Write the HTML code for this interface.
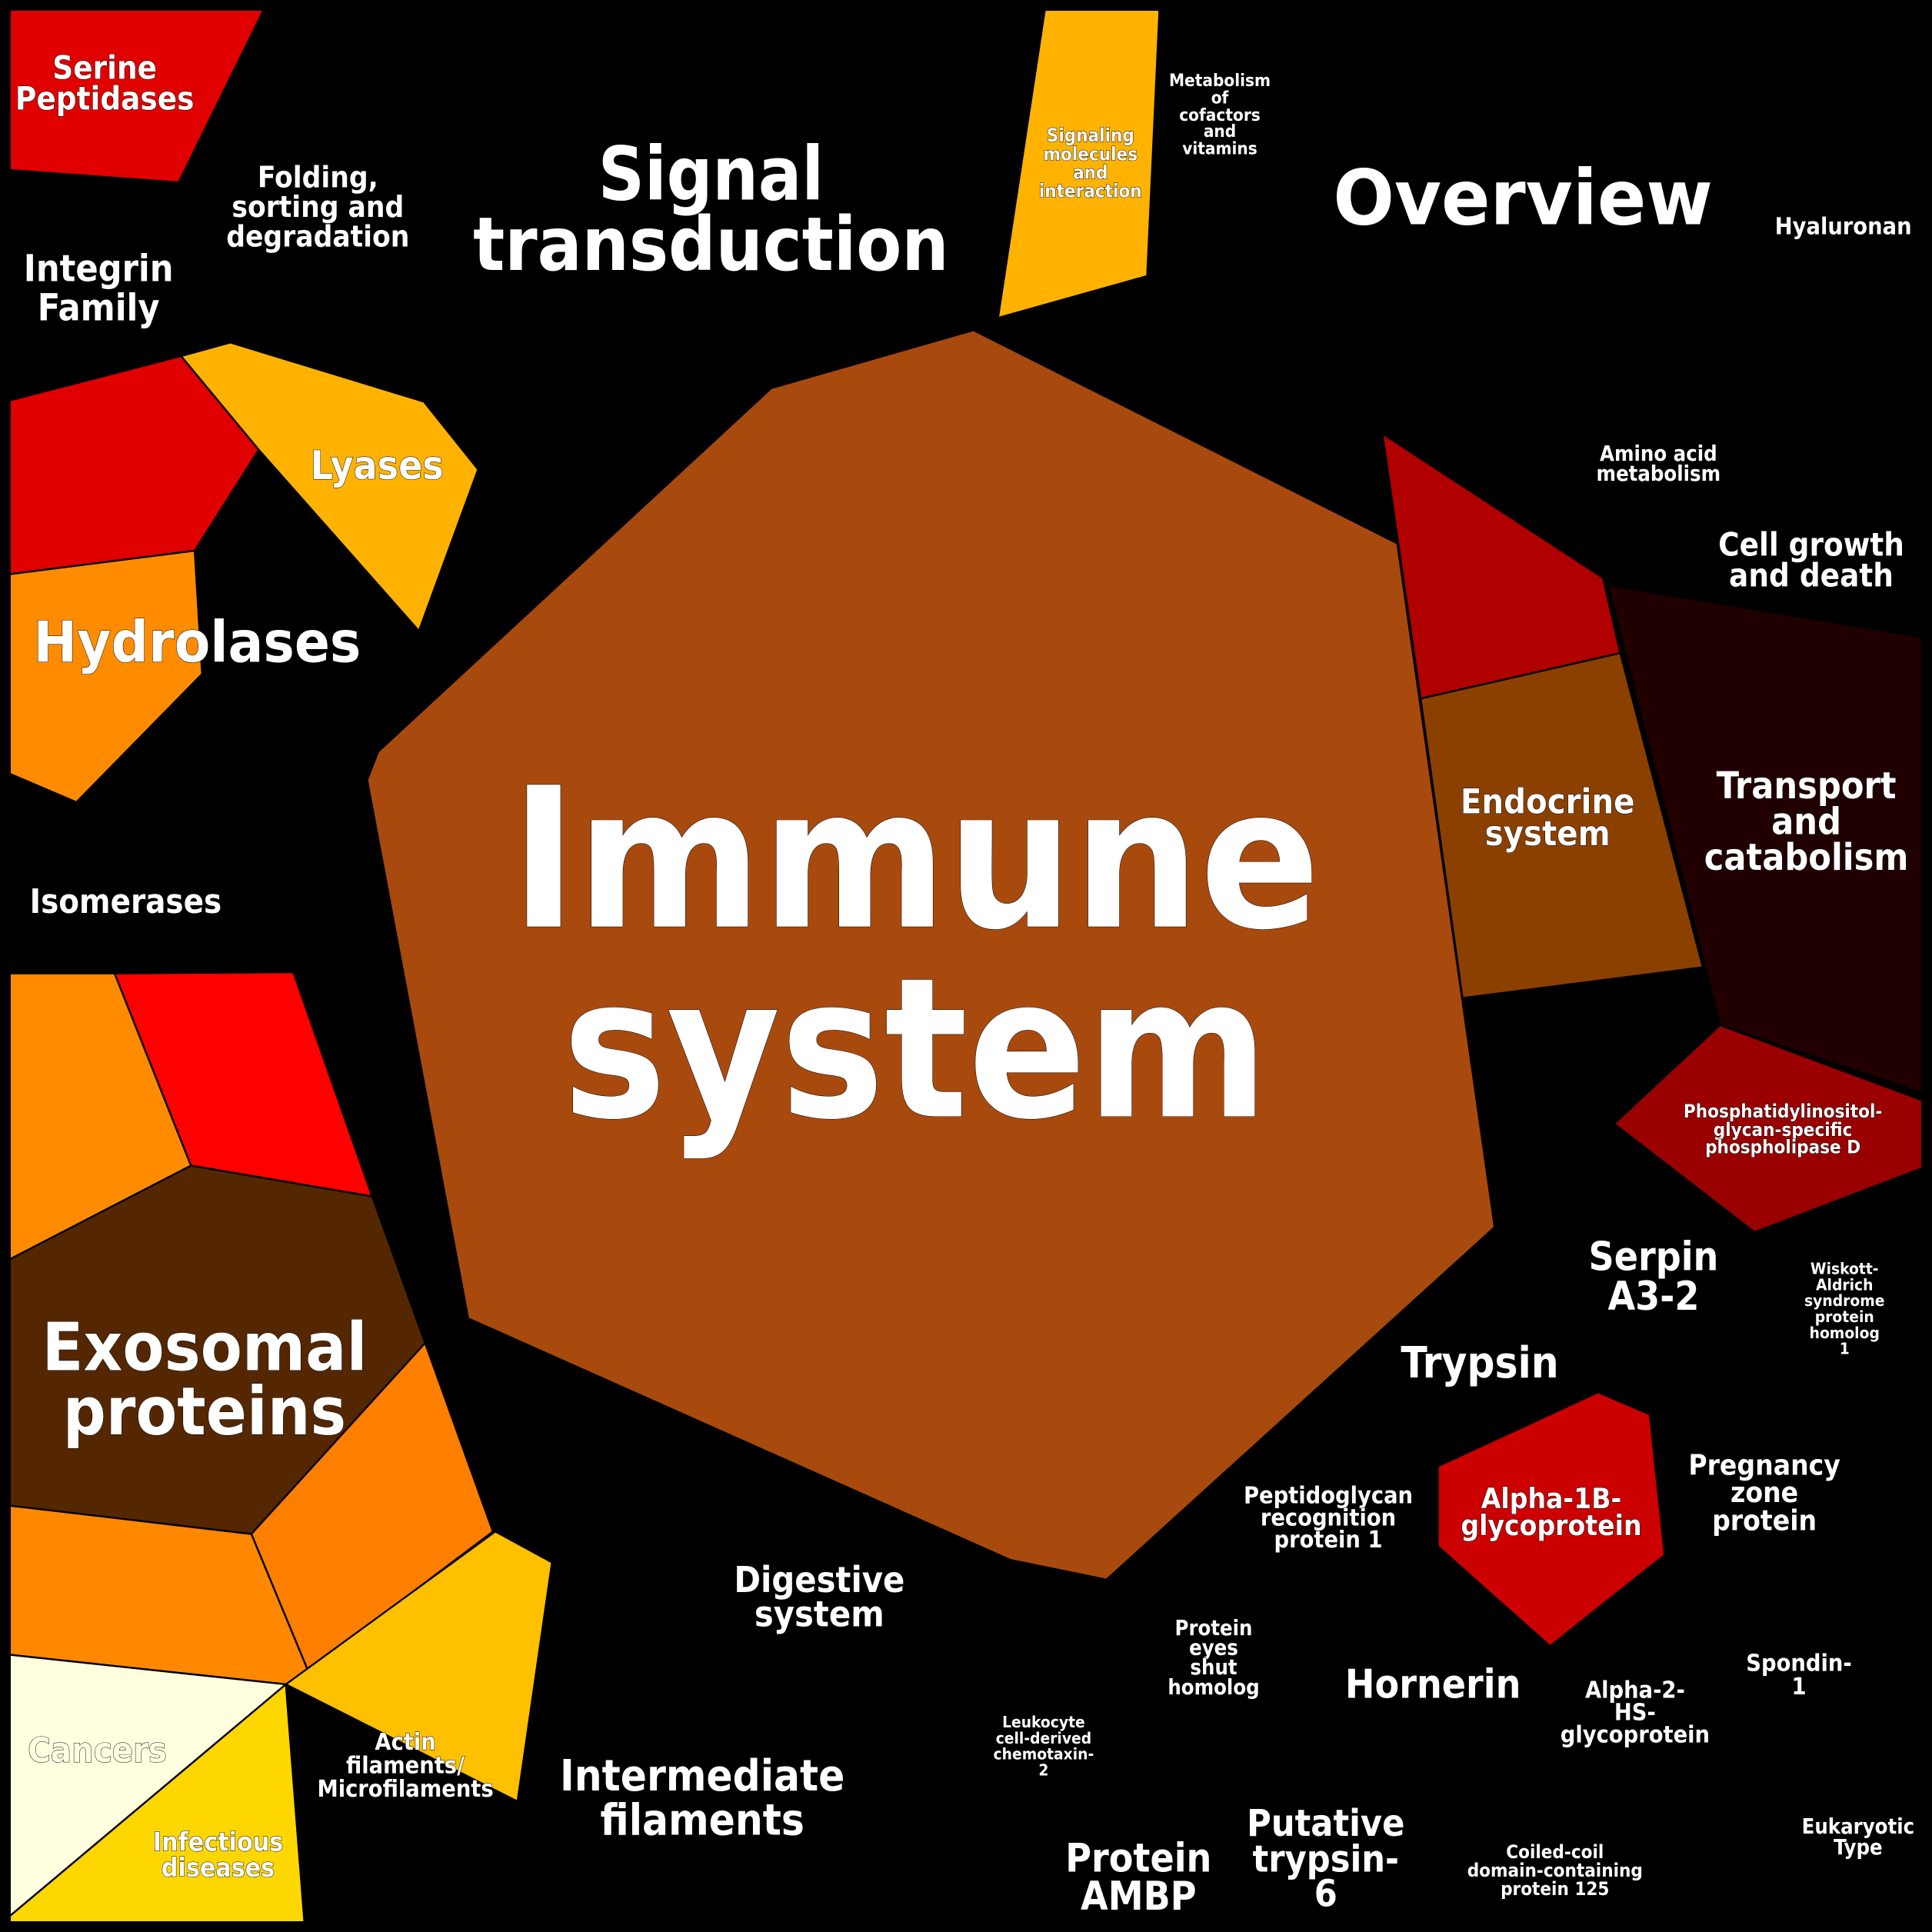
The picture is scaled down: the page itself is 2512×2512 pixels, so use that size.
<!DOCTYPE html>
<html><head><meta charset="utf-8"><style>
html,body{margin:0;padding:0;background:#000}
svg{display:block}
text{font-family:"DejaVu Sans Condensed","DejaVu Sans","Liberation Sans",sans-serif;font-stretch:condensed;font-weight:bold;fill:#fff;text-anchor:middle;stroke:#000;stroke-width:0.6;paint-order:stroke}
polygon{stroke:#000;stroke-width:1.5}
</style></head><body>
<svg width="2512" height="2512" viewBox="0 0 1568 1568" xmlns="http://www.w3.org/2000/svg">
<rect x="0" y="0" width="1568" height="1568" fill="#000"/>
<polygon points="8,8 214,8 145,148 8,138" fill="#e00000"/>
<polygon points="848,8 941,8 931,224 810,258" fill="#ffb300"/>
<polygon points="790,268 1134,441 1213,996 898,1282 820,1266 380,1070 298,633 307,610 626,315" fill="#a84a0e"/>
<polygon points="8,325 147,289 210,365 158,447 8,466" fill="#e00000"/>
<polygon points="147,289 187,278 344,326 388,381 340,512 210,365" fill="#ffb300"/>
<polygon points="8,466 158,447 164,547 62,651 8,628" fill="#ff8c00"/>
<polygon points="8,790 93,790 155,946 8,1022" fill="#ff8c00"/>
<polygon points="93,790 238,789 302,971 155,946" fill="#ff0000"/>
<polygon points="8,1022 155,946 302,971 345,1090 204,1245 8,1222" fill="#552700"/>
<polygon points="345,1090 400,1243 250,1356 204,1245" fill="#ff7f00"/>
<polygon points="8,1222 204,1245 250,1356 232,1367 8,1343" fill="#ff8800"/>
<polygon points="8,1343 232,1367 8,1555" fill="#ffffe0"/>
<polygon points="232,1367 247,1560 8,1560 8,1555" fill="#ffd700"/>
<polygon points="232,1367 402,1243 448,1268 420,1462" fill="#ffc000"/>
<polygon points="1122,352 1301,469 1315,530 1153,567" fill="#b00000"/>
<polygon points="1153,567 1315,530 1382,785 1187,810" fill="#8b4000"/>
<polygon points="1305,475 1560,517 1560,887 1396,832" fill="#200000"/>
<polygon points="1310,912 1396,832 1560,893 1560,948 1424,1000" fill="#9b0000"/>
<polygon points="1167,1190 1297,1130 1339,1148 1351,1262 1258,1336 1167,1255" fill="#cc0000"/>

<text x="85" y="64" font-size="26">Serine</text>
<text x="85" y="89" font-size="26">Peptidases</text>
<text x="258" y="152" font-size="24">Folding,</text>
<text x="258" y="176" font-size="24">sorting and</text>
<text x="258" y="200" font-size="24">degradation</text>
<text x="80" y="228" font-size="30">Integrin</text>
<text x="80" y="260" font-size="30">Family</text>
<text x="577" y="162" font-size="60" textLength="183" lengthAdjust="spacingAndGlyphs">Signal</text>
<text x="577" y="219" font-size="60" textLength="386" lengthAdjust="spacingAndGlyphs">transduction</text>
<text x="885" y="115" font-size="15">Signaling</text>
<text x="885" y="130" font-size="15">molecules</text>
<text x="885" y="145" font-size="15">and</text>
<text x="885" y="160" font-size="15">interaction</text>
<text x="990" y="70" font-size="14">Metabolism</text>
<text x="990" y="84" font-size="14">of</text>
<text x="990" y="98" font-size="14">cofactors</text>
<text x="990" y="111" font-size="14">and</text>
<text x="990" y="125" font-size="14">vitamins</text>
<text x="1236" y="182" font-size="62" textLength="308" lengthAdjust="spacingAndGlyphs">Overview</text>
<text x="1496" y="190" font-size="19">Hyaluronan</text>
<text x="306" y="389" font-size="32">Lyases</text>
<text x="160" y="537" font-size="46" textLength="266" lengthAdjust="spacingAndGlyphs">Hydrolases</text>
<text x="102" y="741" font-size="27">Isomerases</text>
<text x="743" y="752" font-size="158" textLength="657" lengthAdjust="spacingAndGlyphs">Immune</text>
<text x="743" y="906" font-size="158" textLength="573" lengthAdjust="spacingAndGlyphs">system</text>
<text x="1346" y="374" font-size="17">Amino acid</text>
<text x="1346" y="390" font-size="17">metabolism</text>
<text x="1470" y="451" font-size="26">Cell growth</text>
<text x="1470" y="476" font-size="26">and death</text>
<text x="1256" y="660" font-size="28">Endocrine</text>
<text x="1256" y="686" font-size="28">system</text>
<text x="1466" y="648" font-size="30">Transport</text>
<text x="1466" y="677" font-size="30">and</text>
<text x="1466" y="706" font-size="30">catabolism</text>
<text x="1447" y="907" font-size="15">Phosphatidylinositol-</text>
<text x="1447" y="922" font-size="15">glycan-specific</text>
<text x="1447" y="936" font-size="15">phospholipase D</text>
<text x="1342" y="1031" font-size="32">Serpin</text>
<text x="1342" y="1063" font-size="32">A3-2</text>
<text x="1497" y="1034" font-size="13">Wiskott-</text>
<text x="1497" y="1047" font-size="13">Aldrich</text>
<text x="1497" y="1060" font-size="13">syndrome</text>
<text x="1497" y="1073" font-size="13">protein</text>
<text x="1497" y="1086" font-size="13">homolog</text>
<text x="1497" y="1099" font-size="13">1</text>
<text x="1201" y="1118" font-size="35">Trypsin</text>
<text x="166" y="1112" font-size="54" textLength="264" lengthAdjust="spacingAndGlyphs">Exosomal</text>
<text x="166" y="1164" font-size="54" textLength="230" lengthAdjust="spacingAndGlyphs">proteins</text>
<text x="1259" y="1224" font-size="23">Alpha-1B-</text>
<text x="1259" y="1246" font-size="23">glycoprotein</text>
<text x="1432" y="1197" font-size="23">Pregnancy</text>
<text x="1432" y="1219" font-size="23">zone</text>
<text x="1432" y="1242" font-size="23">protein</text>
<text x="1078" y="1220" font-size="19">Peptidoglycan</text>
<text x="1078" y="1238" font-size="19">recognition</text>
<text x="1078" y="1256" font-size="19">protein 1</text>
<text x="665" y="1292" font-size="29">Digestive</text>
<text x="665" y="1320" font-size="29">system</text>
<text x="985" y="1327" font-size="17">Protein</text>
<text x="985" y="1343" font-size="17">eyes</text>
<text x="985" y="1359" font-size="17">shut</text>
<text x="985" y="1375" font-size="17">homolog</text>
<text x="1163" y="1378" font-size="32">Hornerin</text>
<text x="1327" y="1378" font-size="19">Alpha-2-</text>
<text x="1327" y="1396" font-size="19">HS-</text>
<text x="1327" y="1414" font-size="19">glycoprotein</text>
<text x="1460" y="1356" font-size="19">Spondin-</text>
<text x="1460" y="1375" font-size="19">1</text>
<text x="79" y="1430" font-size="28" style="fill:#ffffe0">Cancers</text>
<text x="329" y="1420" font-size="19">Actin</text>
<text x="329" y="1439" font-size="19">filaments/</text>
<text x="329" y="1458" font-size="19">Microfilaments</text>
<text x="847" y="1402" font-size="13">Leukocyte</text>
<text x="847" y="1415" font-size="13">cell-derived</text>
<text x="847" y="1428" font-size="13">chemotaxin-</text>
<text x="847" y="1441" font-size="13">2</text>
<text x="570" y="1453" font-size="35">Intermediate</text>
<text x="570" y="1489" font-size="35">filaments</text>
<text x="1076" y="1490" font-size="30">Putative</text>
<text x="1076" y="1519" font-size="30">trypsin-</text>
<text x="1076" y="1547" font-size="30">6</text>
<text x="177" y="1502" font-size="21">Infectious</text>
<text x="177" y="1523" font-size="21">diseases</text>
<text x="924" y="1519" font-size="32">Protein</text>
<text x="924" y="1550" font-size="32">AMBP</text>
<text x="1262" y="1508" font-size="15">Coiled-coil</text>
<text x="1262" y="1523" font-size="15">domain-containing</text>
<text x="1262" y="1538" font-size="15">protein 125</text>
<text x="1508" y="1488" font-size="17">Eukaryotic</text>
<text x="1508" y="1505" font-size="17">Type</text>
</svg>
</body></html>
